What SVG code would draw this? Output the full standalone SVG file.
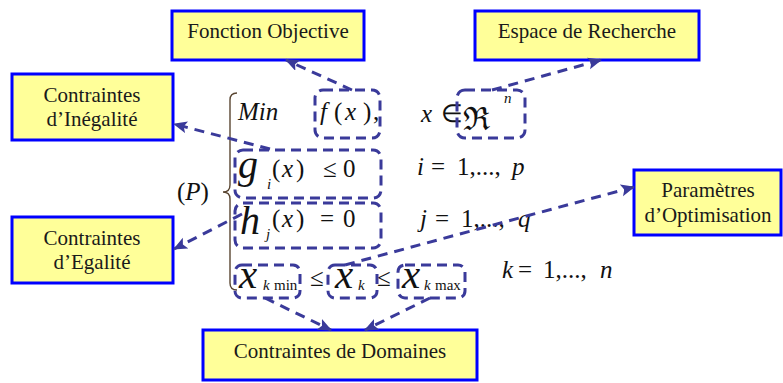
<svg xmlns="http://www.w3.org/2000/svg" width="783" height="383" viewBox="0 0 783 383" font-family="Liberation Serif">
<defs>
<marker id="ah" markerUnits="userSpaceOnUse" markerWidth="16" markerHeight="14" refX="13" refY="6" orient="auto">
<path d="M0,0 L14,6 L0,12 L3,6 z" fill="#3a3a9a"/>
</marker>
</defs>
<rect width="783" height="383" fill="#fff"/>

<g id="noeuds" fill="#1a1a1a" text-anchor="middle">
<g id="fonction-objective"><rect x="172" y="11" width="192" height="49" fill="#FFFF99" stroke="#0000FF" stroke-width="3"/><text font-family="Liberation Serif" font-size="21" x="268" y="38">Fonction Objective</text></g>
<g id="espace-recherche"><rect x="475" y="11" width="224" height="49" fill="#FFFF99" stroke="#0000FF" stroke-width="3"/><text font-family="Liberation Serif" font-size="21" x="587" y="38">Espace de Recherche</text></g>
<g id="contraintes-inegalite"><rect x="12" y="74" width="161" height="66" fill="#FFFF99" stroke="#0000FF" stroke-width="3"/><text font-family="Liberation Serif" font-size="21" x="92" y="102">Contraintes</text><text font-family="Liberation Serif" font-size="21" x="92" y="126">d’Inégalité</text></g>
<g id="contraintes-egalite"><rect x="12" y="217" width="161" height="66" fill="#FFFF99" stroke="#0000FF" stroke-width="3"/><text font-family="Liberation Serif" font-size="21" x="92" y="245">Contraintes</text><text font-family="Liberation Serif" font-size="21" x="92" y="269">d’Egalité</text></g>
<g id="parametres-optimisation"><rect x="634" y="170" width="147" height="65" fill="#FFFF99" stroke="#0000FF" stroke-width="3"/><text font-family="Liberation Serif" font-size="21" x="708" y="197">Paramètres</text><text font-family="Liberation Serif" font-size="21" x="708" y="222">d’Optimisation</text></g>
<g id="contraintes-domaines"><rect x="203" y="330" width="274" height="50" fill="#FFFF99" stroke="#0000FF" stroke-width="3"/><text font-family="Liberation Serif" font-size="21" x="340" y="358">Contraintes de Domaines</text></g>
</g>

<g id="probleme" fill="#111">
<path d="M237,93 Q230,93 230,100 L230,185 Q230,192 223,192 Q230,192 230,199 L230,283 Q230,290 237,290" fill="none" stroke="#5a4632" stroke-width="1.4"/>
<text font-family="Liberation Serif" font-size="25" x="177" y="200">(<tspan font-style="italic">P</tspan>)</text>
<text font-family="Liberation Serif" font-size="25" y="120"><tspan font-style="italic" x="238">Min</tspan><tspan font-style="italic" x="320">f</tspan><tspan x="334">(</tspan><tspan font-style="italic" x="345">x</tspan><tspan x="363">)</tspan><tspan x="373">,</tspan></text>
<text font-family="Liberation Serif" font-size="25" y="122"><tspan font-style="italic" x="421">x</tspan><tspan x="441">∈</tspan></text>
<text font-family="DejaVu Serif" x="463" y="130" font-size="32">ℜ</text>
<text font-family="Liberation Serif" font-style="italic" font-size="15" x="504" y="103">n</text>

<text font-family="Liberation Serif" font-style="italic" font-size="40" x="238" y="178">g</text>
<text font-family="Liberation Serif" font-style="italic" font-size="15" x="267" y="189">i</text>
<text font-family="Liberation Serif" font-size="25" y="177"><tspan x="272">(</tspan><tspan font-style="italic" x="282">x</tspan><tspan x="296">)</tspan><tspan x="323">≤</tspan><tspan x="343">0</tspan></text>
<text font-family="Liberation Serif" font-size="25" y="175"><tspan font-style="italic" x="417">i</tspan><tspan x="431">=</tspan><tspan x="457">1,...,</tspan><tspan font-style="italic" x="512">p</tspan></text>

<text font-family="Liberation Serif" font-style="italic" font-size="40" x="240" y="234">h</text>
<text font-family="Liberation Serif" font-style="italic" font-size="15" x="266" y="239">j</text>
<text font-family="Liberation Serif" font-size="25" y="227"><tspan x="272">(</tspan><tspan font-style="italic" x="282">x</tspan><tspan x="296">)</tspan><tspan x="320">=</tspan><tspan x="343">0</tspan></text>
<text font-family="Liberation Serif" font-size="25" y="227"><tspan font-style="italic" x="420">j</tspan><tspan x="435">=</tspan><tspan x="461">1,...,</tspan><tspan font-style="italic" x="518">q</tspan></text>

<text font-family="Liberation Serif" font-size="25" y="288"><tspan font-style="italic" font-size="41" x="239">x</tspan><tspan font-style="italic" font-size="15" x="263" dy="2">k</tspan><tspan font-size="15" x="274">min</tspan></text>
<text font-family="Liberation Serif" font-size="25" x="310" y="286">≤</text>
<text font-family="Liberation Serif" font-size="25" y="288"><tspan font-style="italic" font-size="41" x="335">x</tspan><tspan font-style="italic" font-size="15" x="358" dy="2">k</tspan></text>
<text font-family="Liberation Serif" font-size="25" x="377" y="286">≤</text>
<text font-family="Liberation Serif" font-size="25" y="288"><tspan font-style="italic" font-size="41" x="402">x</tspan><tspan font-style="italic" font-size="15" x="424" dy="2">k</tspan><tspan font-size="15" x="435">max</tspan></text>
<text font-family="Liberation Serif" font-size="25" y="278"><tspan font-style="italic" x="502">k</tspan><tspan x="518">=</tspan><tspan x="543">1,...,</tspan><tspan font-style="italic" x="600">n</tspan></text>

<g fill="none" stroke="#3a3a9a" stroke-width="3" stroke-dasharray="10 6">
<rect x="315" y="90" width="65" height="48" rx="8"/>
<rect x="457" y="90" width="68" height="48" rx="8"/>
<rect x="235" y="150" width="146" height="48" rx="8"/>
<rect x="235" y="203" width="146" height="45" rx="8"/>
<rect x="235" y="265" width="65" height="33" rx="7"/>
<rect x="328" y="265" width="49" height="33" rx="7"/>
<rect x="398" y="265" width="67" height="33" rx="7"/>
</g>
</g>

<g id="connecteurs" fill="none" stroke="#3a3a9a" stroke-width="3" stroke-dasharray="10 7" marker-end="url(#ah)">
<path d="M352,90 L286,60"/>
<path d="M492,90 L601,60"/>
<path d="M270,149 L174,124"/>
<path d="M242,214 L174,249"/>
<path d="M345,265 L634,187"/>
<path d="M265,298 L331,330"/>
<path d="M430,298 L365,330"/>
</g>
</svg>
